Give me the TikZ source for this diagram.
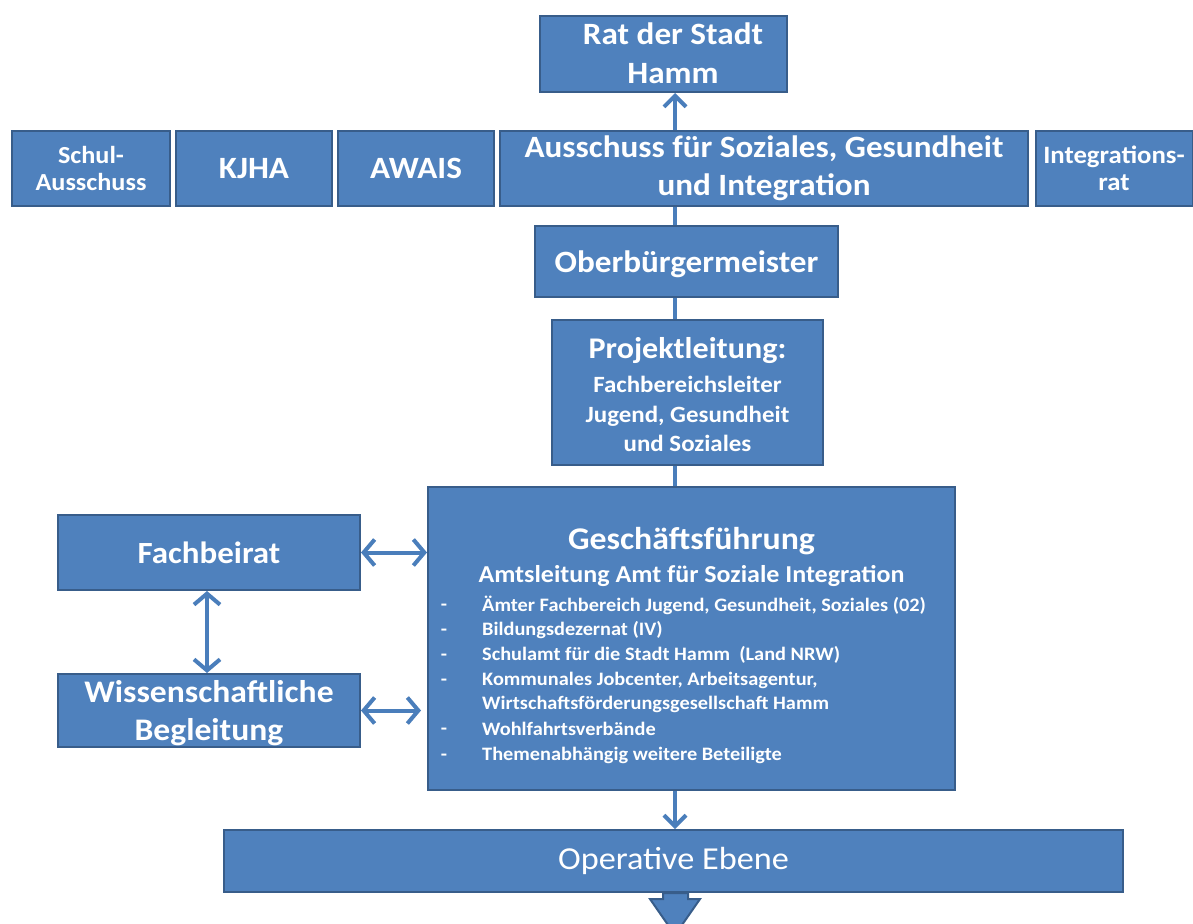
\documentclass[tikz,border=0pt]{standalone}
\usepackage{fontspec}
\setmainfont{Carlito}[FakeStretch=1.07]
\usetikzlibrary{arrows.meta}
\definecolor{boxfill}{HTML}{4F81BD}
\definecolor{boxline}{HTML}{385D8A}
\definecolor{conn}{HTML}{4A7EBB}
\newcommand\fsz[2]{\fontsize{#1}{#2}\selectfont}
\begin{document}
\begin{tikzpicture}[x=1pt,y=-1pt,
  box/.style={draw=boxline, fill=boxfill, line width=2pt, text=white, font=\bfseries, align=center, inner sep=0pt},
  txt/.style={text=white, font=\bfseries, align=center, inner sep=0pt},
  conline/.style={draw=conn, line width=4pt}]
\useasboundingbox (0,0) rectangle (1193,923);
\fill[white] (0,0) rectangle (1193,923);

\node[box, minimum width=247pt, minimum height=76pt] (rat) at (663.5,54) {};
\node[txt, font=\bfseries\fsz{31}{39}] (rattxt) at (673,53) {Rat der Stadt\\Hamm};

\node[box, minimum width=158pt, minimum height=75pt, font=\bfseries\fsz{24.5}{27}] (schul) at (91,168.5) {Schul-\\Ausschuss};
\node[box, minimum width=156pt, minimum height=75pt, font=\bfseries\fsz{31}{34}] (kjha) at (254,168.5) {KJHA};
\node[box, minimum width=156pt, minimum height=75pt, font=\bfseries\fsz{31}{34}] (awais) at (416,168.5) {AWAIS};
\node[box, minimum width=528pt, minimum height=75pt, font=\bfseries\fsz{31}{38}] (aus) at (764,168.5) {Ausschuss für Soziales, Gesundheit\\und Integration};
\node[box, minimum width=157pt, minimum height=75pt, font=\bfseries\fsz{25}{27}] (integ) at (1114,168.5) {Integrations-\\rat};

\node[box, minimum width=303pt, minimum height=71pt] (ob) at (686.5,261.5) {};
\node[txt, font=\bfseries\fsz{31}{37}] (obtxt) at (686.5,264) {Oberbürgermeister};

\node[box, minimum width=271pt, minimum height=145pt] (proj) at (687.5,392.5) {};
\node[txt, font=\bfseries\fsz{30}{36}] (projt) at (687.5,351) {Projektleitung:};
\node[txt, font=\bfseries\fsz{23.3}{29.5}] (projs) at (687.5,414) {Fachbereichsleiter\\Jugend, Gesundheit\\und Soziales};

\node[box, minimum width=527pt, minimum height=303pt] (gf) at (691.5,638.5) {};
\node[txt, font=\bfseries\fsz{31.6}{36}] (gft) at (691.5,541) {Geschäftsführung};
\node[txt, font=\bfseries\fsz{24.3}{29}] (gfs) at (691.5,576) {Amtsleitung Amt für Soziale Integration};
\foreach \yy/\tt/\dd in {605/{Ämter Fachbereich Jugend, Gesundheit, Soziales (02)}/1,
                      630/{Bildungsdezernat (IV)}/1,
                      655/{Schulamt für die Stadt Hamm\ \ (Land NRW)}/1,
                      680/{Kommunales Jobcenter, Arbeitsagentur,}/1,
                      704/{Wirtschaftsförderungsgesellschaft Hamm}/0,
                      729/{Wohlfahrtsverbände}/1,
                      755/{Themenabhängig weitere Beteiligte}/1}{
  \node[txt, anchor=west, font=\bfseries\fsz{19}{22}] (li\yy) at (482,\yy) {\tt};
  \ifnum\dd=1 \node[txt, font=\bfseries\fsz{19}{22}] (da\yy) at (444,\yy+2) {-};\fi
}

\node[box, minimum width=899pt, minimum height=62pt, font=\fsz{32}{35}] (op) at (673.5,861) {Operative Ebene};

\node[box, minimum width=302pt, minimum height=75pt, font=\bfseries\fsz{30.8}{35}] (fach) at (209,552.5) {Fachbeirat};
\node[box, minimum width=302pt, minimum height=73pt] (wiss) at (209,710.5) {};
\node[txt, font=\bfseries\fsz{31.4}{38}] (wisstxt) at (209,713) {Wissenschaftliche\\Begleitung};

% connectors
\coordinate (ax) at (675,0);
\draw[conline, -{Straight Barb[length=11pt, width=22pt, line width=4pt]}] (ax |- aus.north) -- (ax |- rat.south);
\draw[conline] (ax |- aus.south) -- (ax |- ob.north);
\draw[conline] (ax |- ob.south) -- (ax |- proj.north);
\draw[conline] (ax |- proj.south) -- (ax |- gf.north);
\draw[conline, -{Straight Barb[length=11pt, width=22pt, line width=4pt]}] (ax |- gf.south) -- (ax |- op.north);

\draw[conline, {Straight Barb[length=11pt, width=26pt, line width=4pt]}-{Straight Barb[length=11pt, width=26pt, line width=4pt]}] (fach.east) -- (fach.east -| gf.west);
\draw[conline, {Straight Barb[length=11pt, width=26pt, line width=4pt]}-{Straight Barb[length=11pt, width=26pt, line width=4pt]}, shorten >=6pt] (wiss.east) -- (wiss.east -| gf.west);
\coordinate (vx) at (207,0);
\draw[conline, {Straight Barb[length=11pt, width=26pt, line width=4pt]}-{Straight Barb[length=11pt, width=26pt, line width=4pt]}] (vx |- fach.south) -- (vx |- wiss.north);

% bottom block arrow
\draw[draw=boxline, fill=boxfill, line width=2pt, line join=miter]
  (663,893) -- (688,893) -- (688,899) -- (700,899) -- (675,935) -- (650,899) -- (663,899) -- cycle;
\end{tikzpicture}
\end{document}
